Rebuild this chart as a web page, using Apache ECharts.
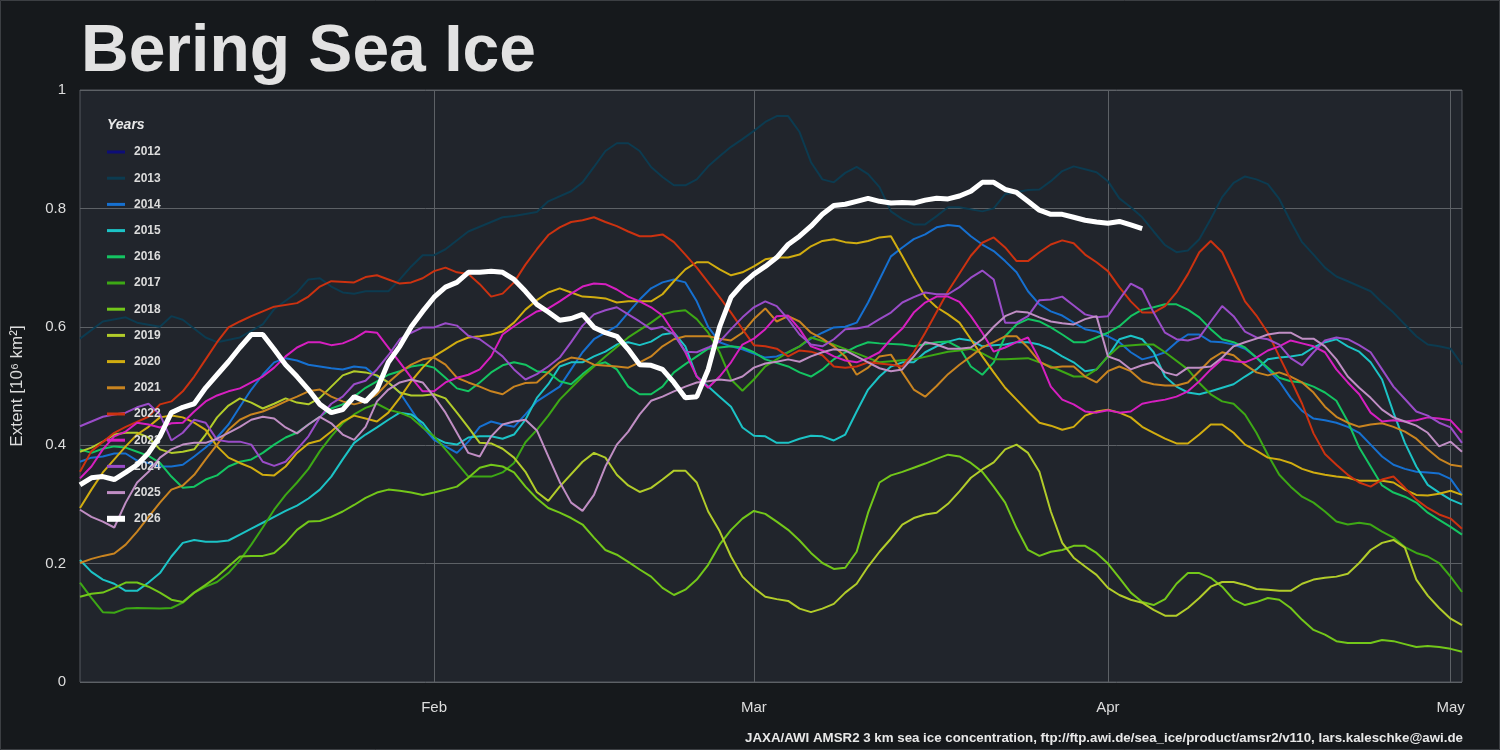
<!DOCTYPE html>
<html><head><meta charset="utf-8">
<script src="https://cdn.jsdelivr.net/npm/echarts@6/dist/echarts.min.js"></script>
<style>html,body{margin:0;padding:0;background:#16191c;}#c{width:1500px;height:750px;}</style>
</head><body><div id="c"></div>
<script>
const years = ['2012','2013','2014','2015','2016','2017','2018','2019','2020','2021','2022','2023','2024','2025','2026'];
const colors = ['#0d0d78','#0c3b50','#1670d0','#1cc3c6','#14c462','#3da815','#73c71a','#b2cc2a','#d1ad10','#c98420','#cc3210','#d61fc0','#9a4cc8','#c08ec4','#ffffff'];
const monthTicks = [31,59,90,120];
const monthLabels = ['Feb','Mar','Apr','May'];

const ext2012 = [];
const ext2013 = [[0,0.58],[2,0.609],[4,0.616],[5,0.607],[7,0.60],[8,0.618],[9,0.612],[11,0.582],[12,0.574],[14,0.582],[16,0.604],[17,0.63],[19,0.658],[20,0.68],[21,0.682],[22,0.668],[23,0.658],[24,0.656],[25,0.66],[27,0.66],[28,0.68],[29,0.702],[30,0.721],[31,0.721],[32,0.731],[34,0.761],[37,0.785],[38,0.787],[40,0.794],[41,0.812],[43,0.829],[44,0.844],[45,0.87],[46,0.897],[47,0.91],[48,0.91],[49,0.897],[50,0.87],[51,0.853],[52,0.839],[53,0.839],[54,0.849],[55,0.871],[56,0.888],[57,0.904],[58,0.917],[59,0.931],[60,0.946],[61,0.956],[62,0.956],[63,0.929],[64,0.878],[65,0.849],[66,0.844],[67,0.86],[68,0.87],[69,0.858],[70,0.836],[71,0.795],[72,0.782],[73,0.773],[74,0.773],[75,0.787],[76,0.802],[77,0.802],[79,0.795],[80,0.80],[81,0.824],[83,0.831],[84,0.832],[85,0.846],[86,0.863],[87,0.871],[88,0.866],[89,0.861],[90,0.846],[91,0.817],[92,0.802],[93,0.785],[94,0.761],[95,0.738],[96,0.726],[97,0.729],[98,0.748],[99,0.782],[100,0.819],[101,0.843],[102,0.854],[103,0.849],[104,0.841],[105,0.816],[106,0.778],[107,0.743],[108,0.722],[109,0.70],[110,0.685],[111,0.677],[113,0.66],[114,0.641],[115,0.624],[116,0.604],[117,0.584],[118,0.57],[119,0.567],[120,0.563],[121,0.536]];
const ext2014 = [[0,0.372],[1,0.379],[2,0.381],[3,0.386],[4,0.386],[5,0.374],[6,0.37],[7,0.364],[8,0.364],[9,0.367],[10,0.381],[11,0.396],[12,0.413],[13,0.435],[14,0.465],[15,0.494],[16,0.519],[17,0.54],[18,0.547],[19,0.543],[20,0.536],[21,0.533],[22,0.53],[23,0.528],[24,0.533],[25,0.531],[26,0.516],[27,0.506],[28,0.489],[29,0.46],[30,0.431],[31,0.409],[32,0.398],[33,0.387],[34,0.406],[35,0.431],[36,0.44],[37,0.435],[38,0.431],[39,0.452],[40,0.474],[42,0.499],[43,0.528],[44,0.557],[45,0.579],[47,0.601],[48,0.624],[49,0.646],[50,0.665],[51,0.675],[52,0.68],[53,0.675],[54,0.643],[55,0.60],[56,0.574],[57,0.567],[58,0.562],[59,0.555],[60,0.548],[61,0.55],[62,0.557],[63,0.567],[64,0.58],[65,0.59],[66,0.599],[67,0.60],[68,0.607],[69,0.641],[70,0.68],[71,0.719],[72,0.734],[73,0.748],[74,0.756],[75,0.768],[76,0.772],[77,0.77],[78,0.753],[79,0.739],[80,0.728],[81,0.711],[82,0.692],[83,0.66],[84,0.638],[85,0.626],[86,0.619],[87,0.607],[88,0.596],[89,0.592],[90,0.584],[91,0.574],[92,0.557],[93,0.545],[94,0.55],[95,0.557],[96,0.574],[97,0.587],[98,0.587],[99,0.575],[100,0.574],[101,0.57],[102,0.563],[103,0.548],[104,0.528],[105,0.508],[106,0.48],[107,0.458],[108,0.445],[109,0.442],[110,0.438],[111,0.431],[112,0.421],[113,0.401],[114,0.381],[115,0.367],[116,0.36],[117,0.355],[118,0.354],[119,0.352],[120,0.343],[121,0.316]];
const ext2015 = [[0,0.206],[1,0.186],[2,0.173],[3,0.166],[4,0.154],[5,0.154],[6,0.168],[7,0.184],[8,0.212],[9,0.235],[10,0.24],[11,0.237],[12,0.237],[13,0.239],[14,0.249],[15,0.259],[16,0.269],[17,0.279],[18,0.289],[19,0.298],[20,0.31],[21,0.325],[22,0.347],[23,0.376],[24,0.404],[25,0.418],[26,0.43],[27,0.443],[28,0.455],[29,0.452],[30,0.438],[31,0.413],[32,0.404],[33,0.401],[34,0.413],[35,0.415],[36,0.415],[37,0.411],[38,0.418],[39,0.443],[40,0.48],[41,0.503],[42,0.533],[43,0.54],[44,0.54],[45,0.55],[46,0.558],[47,0.57],[48,0.574],[49,0.569],[50,0.575],[51,0.587],[52,0.59],[53,0.567],[54,0.516],[55,0.499],[56,0.482],[57,0.465],[58,0.43],[59,0.416],[60,0.415],[61,0.404],[62,0.404],[63,0.411],[64,0.416],[65,0.415],[66,0.408],[67,0.418],[68,0.457],[69,0.494],[70,0.516],[71,0.533],[72,0.54],[73,0.54],[74,0.557],[75,0.567],[76,0.575],[77,0.58],[78,0.577],[79,0.567],[80,0.569],[81,0.57],[82,0.574],[83,0.574],[84,0.57],[85,0.562],[86,0.55],[87,0.54],[88,0.525],[89,0.528],[90,0.55],[91,0.579],[92,0.585],[93,0.579],[94,0.557],[95,0.516],[96,0.499],[97,0.489],[98,0.486],[99,0.491],[100,0.497],[101,0.503],[102,0.516],[103,0.528],[104,0.545],[105,0.548],[106,0.55],[107,0.553],[108,0.565],[109,0.574],[110,0.579],[111,0.567],[112,0.558],[113,0.54],[114,0.511],[115,0.455],[116,0.404],[117,0.364],[118,0.333],[119,0.32],[120,0.308],[121,0.3]];
const ext2016 = [[0,0.393],[1,0.387],[2,0.394],[3,0.398],[4,0.396],[5,0.389],[6,0.382],[7,0.37],[8,0.347],[9,0.328],[10,0.33],[11,0.342],[12,0.349],[13,0.364],[14,0.372],[15,0.376],[16,0.387],[17,0.401],[18,0.413],[19,0.421],[20,0.435],[21,0.448],[22,0.462],[23,0.469],[24,0.482],[25,0.497],[26,0.508],[27,0.519],[28,0.525],[29,0.533],[30,0.536],[31,0.531],[32,0.514],[33,0.496],[34,0.491],[35,0.506],[36,0.523],[37,0.535],[38,0.54],[39,0.536],[40,0.525],[41,0.523],[42,0.508],[43,0.503],[44,0.52],[45,0.535],[46,0.54],[47,0.528],[48,0.499],[49,0.486],[50,0.486],[51,0.499],[52,0.523],[53,0.537],[54,0.55],[55,0.563],[57,0.567],[58,0.565],[59,0.557],[60,0.545],[62,0.533],[63,0.523],[64,0.516],[65,0.528],[66,0.545],[67,0.557],[68,0.567],[69,0.574],[70,0.572],[72,0.57],[73,0.567],[75,0.574],[76,0.575],[77,0.565],[78,0.533],[79,0.519],[80,0.54],[81,0.584],[82,0.604],[83,0.613],[84,0.609],[85,0.599],[86,0.587],[87,0.574],[88,0.574],[89,0.582],[90,0.59],[91,0.601],[92,0.618],[93,0.629],[94,0.633],[95,0.638],[96,0.638],[97,0.629],[98,0.616],[99,0.596],[100,0.579],[101,0.574],[102,0.565],[103,0.548],[104,0.531],[105,0.514],[106,0.508],[107,0.506],[108,0.499],[109,0.489],[110,0.475],[111,0.44],[112,0.396],[113,0.364],[114,0.332],[115,0.32],[116,0.313],[117,0.303],[118,0.286],[119,0.274],[120,0.262],[121,0.249]];
const ext2017 = [[0,0.168],[1,0.142],[2,0.118],[3,0.117],[4,0.124],[5,0.125],[7,0.124],[8,0.125],[9,0.134],[10,0.151],[11,0.161],[12,0.169],[13,0.184],[14,0.206],[15,0.232],[16,0.261],[17,0.291],[18,0.316],[19,0.337],[20,0.36],[21,0.39],[22,0.415],[23,0.437],[24,0.452],[25,0.463],[26,0.47],[27,0.46],[28,0.455],[29,0.447],[30,0.43],[31,0.415],[32,0.393],[33,0.37],[34,0.347],[35,0.347],[36,0.347],[37,0.354],[38,0.37],[39,0.405],[40,0.426],[41,0.45],[42,0.477],[44,0.516],[46,0.55],[48,0.582],[50,0.607],[51,0.621],[52,0.626],[53,0.628],[54,0.613],[55,0.59],[56,0.557],[57,0.511],[58,0.492],[59,0.511],[60,0.533],[61,0.545],[62,0.557],[63,0.567],[64,0.582],[66,0.57],[68,0.555],[70,0.54],[73,0.545],[76,0.558],[77,0.56],[78,0.563],[79,0.555],[80,0.545],[81,0.545],[83,0.547],[85,0.533],[87,0.516],[88,0.516],[89,0.528],[90,0.55],[91,0.567],[93,0.57],[94,0.57],[95,0.557],[97,0.528],[98,0.505],[99,0.486],[100,0.474],[101,0.47],[102,0.452],[103,0.421],[104,0.384],[105,0.35],[106,0.33],[107,0.313],[108,0.303],[109,0.288],[110,0.271],[111,0.266],[112,0.269],[113,0.266],[114,0.254],[115,0.244],[116,0.228],[117,0.218],[118,0.212],[119,0.201],[120,0.178],[121,0.152]];
const ext2018 = [[0,0.144],[1,0.149],[2,0.151],[3,0.159],[4,0.168],[5,0.168],[6,0.161],[7,0.151],[8,0.139],[9,0.135],[10,0.151],[11,0.164],[12,0.178],[13,0.195],[14,0.212],[15,0.213],[16,0.213],[17,0.218],[18,0.235],[19,0.257],[20,0.271],[21,0.272],[22,0.279],[23,0.288],[24,0.299],[25,0.311],[26,0.32],[27,0.325],[28,0.323],[29,0.32],[30,0.316],[31,0.32],[32,0.325],[33,0.33],[34,0.345],[35,0.362],[36,0.367],[37,0.364],[38,0.354],[39,0.33],[40,0.31],[41,0.294],[42,0.286],[43,0.277],[44,0.266],[45,0.244],[46,0.223],[47,0.215],[48,0.203],[49,0.19],[50,0.178],[51,0.159],[52,0.147],[53,0.156],[54,0.173],[55,0.198],[56,0.232],[57,0.257],[58,0.276],[59,0.289],[60,0.284],[61,0.271],[62,0.257],[63,0.239],[64,0.218],[65,0.201],[66,0.191],[67,0.193],[68,0.22],[69,0.286],[70,0.337],[71,0.349],[72,0.355],[73,0.362],[74,0.369],[75,0.377],[76,0.384],[77,0.381],[78,0.37],[79,0.355],[80,0.33],[81,0.303],[82,0.26],[83,0.223],[84,0.213],[85,0.22],[86,0.223],[87,0.23],[88,0.23],[89,0.218],[90,0.2],[91,0.176],[92,0.151],[93,0.135],[94,0.13],[95,0.14],[96,0.166],[97,0.184],[98,0.184],[99,0.176],[100,0.161],[101,0.139],[102,0.13],[103,0.135],[104,0.142],[105,0.139],[106,0.125],[107,0.105],[108,0.088],[109,0.08],[110,0.069],[111,0.066],[112,0.066],[113,0.066],[114,0.071],[115,0.069],[116,0.064],[117,0.059],[118,0.061],[119,0.059],[120,0.056],[121,0.051]];
const ext2019 = [[0,0.389],[1,0.396],[2,0.406],[3,0.418],[4,0.421],[5,0.421],[6,0.413],[7,0.393],[8,0.387],[9,0.389],[10,0.393],[11,0.418],[12,0.447],[13,0.467],[14,0.479],[15,0.472],[16,0.462],[17,0.47],[18,0.479],[19,0.472],[20,0.469],[21,0.48],[22,0.499],[23,0.518],[24,0.525],[25,0.523],[26,0.518],[27,0.506],[28,0.489],[29,0.484],[30,0.484],[31,0.486],[32,0.479],[33,0.455],[34,0.43],[35,0.404],[36,0.403],[37,0.394],[38,0.379],[39,0.355],[40,0.321],[41,0.306],[42,0.33],[44,0.372],[45,0.387],[46,0.379],[47,0.35],[48,0.332],[49,0.321],[50,0.328],[51,0.342],[52,0.357],[53,0.357],[54,0.337],[55,0.288],[56,0.255],[57,0.212],[58,0.178],[59,0.159],[60,0.144],[61,0.14],[62,0.137],[63,0.124],[64,0.118],[65,0.124],[66,0.132],[67,0.151],[68,0.166],[69,0.195],[70,0.22],[71,0.242],[72,0.266],[73,0.277],[74,0.283],[75,0.286],[76,0.301],[77,0.322],[78,0.345],[79,0.359],[80,0.371],[81,0.393],[82,0.401],[83,0.387],[84,0.355],[85,0.288],[86,0.235],[87,0.21],[88,0.195],[89,0.181],[90,0.159],[91,0.147],[92,0.139],[93,0.134],[94,0.122],[95,0.112],[96,0.112],[97,0.125],[98,0.142],[99,0.161],[100,0.169],[101,0.169],[102,0.164],[103,0.157],[104,0.156],[105,0.154],[106,0.154],[107,0.166],[108,0.173],[109,0.176],[110,0.178],[111,0.183],[112,0.201],[113,0.223],[114,0.235],[115,0.24],[116,0.227],[117,0.173],[118,0.146],[119,0.125],[120,0.107],[121,0.096]];
const ext2020 = [[0,0.294],[1,0.325],[2,0.354],[3,0.376],[4,0.398],[5,0.418],[6,0.431],[7,0.447],[8,0.45],[9,0.447],[10,0.438],[11,0.426],[12,0.398],[13,0.379],[14,0.37],[15,0.362],[16,0.35],[17,0.349],[18,0.364],[19,0.387],[20,0.403],[21,0.408],[22,0.423],[23,0.44],[24,0.45],[25,0.445],[26,0.44],[27,0.455],[28,0.48],[29,0.508],[30,0.531],[31,0.55],[32,0.562],[33,0.574],[34,0.582],[35,0.584],[36,0.587],[37,0.592],[38,0.607],[39,0.629],[40,0.645],[41,0.658],[42,0.665],[43,0.658],[44,0.651],[45,0.65],[46,0.648],[47,0.641],[48,0.643],[49,0.643],[50,0.643],[51,0.655],[52,0.677],[53,0.697],[54,0.709],[55,0.709],[56,0.697],[57,0.687],[58,0.692],[59,0.702],[60,0.714],[61,0.717],[62,0.717],[63,0.722],[64,0.736],[65,0.745],[66,0.748],[67,0.743],[68,0.741],[69,0.745],[70,0.751],[71,0.753],[72,0.719],[73,0.684],[74,0.651],[75,0.633],[76,0.621],[77,0.607],[78,0.579],[79,0.55],[80,0.523],[81,0.497],[82,0.477],[83,0.457],[84,0.438],[85,0.433],[86,0.426],[87,0.431],[88,0.45],[89,0.457],[90,0.46],[91,0.455],[92,0.447],[93,0.431],[94,0.421],[95,0.411],[96,0.403],[97,0.403],[98,0.418],[99,0.435],[100,0.435],[101,0.421],[102,0.401],[103,0.391],[104,0.379],[105,0.376],[106,0.37],[107,0.36],[108,0.354],[109,0.35],[110,0.347],[111,0.345],[112,0.34],[113,0.34],[114,0.34],[115,0.337],[116,0.325],[117,0.316],[118,0.315],[119,0.318],[120,0.323],[121,0.316]];
const ext2021 = [[0,0.201],[1,0.208],[2,0.213],[3,0.217],[4,0.232],[5,0.254],[6,0.279],[7,0.303],[8,0.325],[9,0.332],[10,0.35],[11,0.376],[12,0.401],[13,0.426],[14,0.443],[15,0.452],[16,0.457],[17,0.465],[18,0.474],[19,0.482],[20,0.491],[21,0.494],[22,0.482],[23,0.474],[24,0.469],[25,0.474],[26,0.486],[27,0.506],[28,0.523],[29,0.536],[30,0.545],[31,0.548],[32,0.536],[33,0.514],[34,0.506],[35,0.499],[36,0.491],[37,0.486],[38,0.499],[39,0.505],[40,0.506],[42,0.54],[43,0.548],[44,0.545],[45,0.536],[47,0.533],[48,0.531],[49,0.54],[50,0.55],[51,0.567],[52,0.579],[53,0.584],[54,0.584],[55,0.584],[56,0.58],[57,0.577],[58,0.59],[59,0.613],[60,0.631],[61,0.609],[62,0.618],[63,0.609],[64,0.59],[65,0.58],[66,0.567],[67,0.55],[68,0.519],[69,0.531],[70,0.55],[71,0.553],[72,0.523],[73,0.494],[74,0.482],[75,0.5],[76,0.52],[77,0.536],[78,0.55],[79,0.565],[80,0.574],[81,0.584],[82,0.584],[83,0.565],[84,0.541],[85,0.531],[86,0.533],[87,0.533],[88,0.516],[89,0.506],[90,0.525],[91,0.533],[92,0.525],[93,0.508],[94,0.503],[95,0.501],[96,0.501],[97,0.506],[98,0.525],[99,0.545],[100,0.557],[101,0.552],[102,0.536],[103,0.523],[104,0.518],[105,0.523],[106,0.516],[107,0.506],[108,0.489],[109,0.465],[110,0.448],[111,0.438],[112,0.431],[113,0.435],[114,0.437],[115,0.431],[116,0.423],[117,0.411],[118,0.393],[119,0.377],[120,0.367],[121,0.364]];
const ext2022 = [[0,0.355],[1,0.39],[3,0.421],[4,0.431],[6,0.448],[7,0.469],[8,0.474],[9,0.491],[10,0.516],[11,0.545],[12,0.574],[13,0.599],[14,0.609],[15,0.618],[17,0.634],[19,0.64],[20,0.651],[21,0.668],[22,0.677],[24,0.675],[25,0.684],[26,0.687],[27,0.68],[28,0.673],[29,0.675],[30,0.682],[31,0.694],[32,0.70],[33,0.692],[34,0.689],[35,0.672],[36,0.651],[37,0.656],[38,0.675],[39,0.705],[40,0.731],[41,0.755],[42,0.768],[43,0.777],[44,0.78],[45,0.785],[46,0.777],[47,0.77],[48,0.761],[49,0.753],[50,0.753],[51,0.756],[52,0.743],[53,0.722],[54,0.70],[55,0.675],[56,0.65],[57,0.624],[58,0.596],[59,0.569],[60,0.567],[61,0.563],[62,0.55],[63,0.56],[64,0.558],[65,0.552],[66,0.533],[67,0.531],[68,0.533],[69,0.54],[70,0.538],[71,0.536],[72,0.533],[73,0.557],[74,0.59],[75,0.625],[76,0.66],[77,0.69],[78,0.72],[79,0.742],[80,0.751],[81,0.734],[82,0.711],[83,0.711],[84,0.726],[85,0.739],[86,0.746],[87,0.741],[88,0.722],[89,0.709],[90,0.694],[91,0.667],[92,0.643],[93,0.624],[94,0.624],[95,0.635],[96,0.658],[97,0.689],[98,0.726],[99,0.745],[100,0.726],[101,0.685],[102,0.643],[103,0.619],[104,0.59],[105,0.55],[106,0.511],[107,0.47],[108,0.42],[109,0.385],[110,0.367],[111,0.35],[112,0.337],[113,0.33],[114,0.342],[115,0.347],[116,0.328],[117,0.308],[118,0.294],[119,0.283],[120,0.276],[121,0.259]];
const ext2023 = [[0,0.344],[1,0.364],[2,0.393],[3,0.415],[4,0.423],[5,0.438],[6,0.435],[7,0.43],[8,0.437],[9,0.438],[10,0.457],[11,0.474],[12,0.484],[13,0.491],[14,0.496],[15,0.506],[16,0.516],[17,0.531],[18,0.55],[19,0.565],[20,0.574],[21,0.574],[22,0.569],[23,0.572],[24,0.58],[25,0.592],[26,0.59],[27,0.565],[28,0.54],[29,0.514],[30,0.491],[31,0.491],[32,0.506],[33,0.514],[34,0.519],[35,0.528],[36,0.55],[37,0.587],[38,0.601],[39,0.614],[40,0.626],[41,0.631],[42,0.643],[43,0.656],[44,0.668],[45,0.673],[46,0.672],[47,0.663],[48,0.651],[49,0.643],[50,0.633],[51,0.619],[52,0.59],[53,0.557],[54,0.516],[55,0.497],[56,0.516],[57,0.54],[58,0.57],[59,0.58],[60,0.596],[61,0.618],[62,0.619],[63,0.596],[64,0.567],[65,0.56],[66,0.55],[67,0.543],[68,0.54],[69,0.547],[70,0.557],[71,0.579],[72,0.597],[73,0.624],[74,0.641],[75,0.651],[76,0.651],[77,0.642],[78,0.618],[79,0.59],[80,0.558],[81,0.565],[82,0.574],[83,0.582],[84,0.545],[85,0.499],[86,0.477],[87,0.469],[88,0.457],[89,0.455],[90,0.459],[91,0.455],[92,0.457],[93,0.47],[94,0.474],[95,0.477],[96,0.482],[97,0.491],[98,0.508],[99,0.528],[100,0.545],[101,0.542],[102,0.54],[103,0.548],[104,0.56],[105,0.567],[106,0.577],[107,0.572],[108,0.567],[109,0.557],[110,0.528],[111,0.506],[112,0.486],[113,0.455],[114,0.44],[115,0.442],[116,0.44],[117,0.442],[118,0.447],[119,0.445],[120,0.442],[121,0.421]];
const ext2024 = [[0,0.432],[2,0.448],[3,0.452],[4,0.455],[5,0.464],[6,0.47],[7,0.452],[8,0.408],[9,0.421],[10,0.443],[11,0.438],[12,0.409],[13,0.406],[14,0.406],[15,0.401],[16,0.372],[17,0.365],[18,0.372],[19,0.393],[20,0.415],[21,0.447],[22,0.47],[23,0.482],[24,0.503],[25,0.509],[26,0.528],[27,0.552],[28,0.579],[29,0.59],[30,0.599],[31,0.599],[32,0.606],[33,0.602],[34,0.585],[35,0.579],[36,0.565],[37,0.55],[38,0.528],[39,0.511],[40,0.52],[41,0.533],[42,0.548],[43,0.574],[44,0.602],[45,0.621],[46,0.628],[47,0.633],[48,0.621],[49,0.609],[50,0.596],[51,0.60],[52,0.587],[53,0.558],[54,0.557],[55,0.565],[56,0.575],[57,0.596],[58,0.616],[59,0.633],[60,0.643],[61,0.635],[62,0.613],[63,0.587],[64,0.57],[65,0.567],[66,0.579],[67,0.596],[68,0.597],[69,0.601],[70,0.613],[71,0.624],[72,0.641],[73,0.65],[74,0.658],[75,0.655],[76,0.655],[77,0.667],[78,0.683],[79,0.695],[80,0.68],[81,0.607],[82,0.607],[83,0.618],[84,0.645],[85,0.646],[86,0.651],[87,0.636],[88,0.621],[89,0.616],[90,0.618],[91,0.646],[92,0.673],[93,0.663],[94,0.624],[95,0.59],[96,0.579],[97,0.577],[98,0.582],[99,0.609],[100,0.635],[101,0.618],[102,0.592],[103,0.582],[104,0.579],[105,0.57],[106,0.547],[107,0.535],[108,0.557],[109,0.577],[110,0.582],[111,0.579],[112,0.569],[113,0.557],[114,0.528],[115,0.499],[116,0.478],[117,0.457],[118,0.45],[119,0.438],[120,0.43],[121,0.404]];
const ext2025 = [[0,0.291],[1,0.279],[2,0.271],[3,0.261],[4,0.303],[5,0.337],[6,0.355],[7,0.379],[8,0.393],[9,0.401],[10,0.404],[11,0.404],[12,0.411],[13,0.421],[14,0.431],[15,0.443],[16,0.448],[17,0.445],[18,0.43],[19,0.42],[20,0.435],[21,0.448],[22,0.437],[23,0.418],[24,0.409],[25,0.431],[26,0.474],[27,0.494],[28,0.506],[29,0.511],[30,0.506],[31,0.482],[32,0.455],[33,0.421],[34,0.387],[35,0.381],[36,0.415],[37,0.435],[38,0.44],[39,0.443],[40,0.425],[41,0.381],[42,0.338],[43,0.303],[44,0.289],[45,0.316],[46,0.364],[47,0.401],[48,0.423],[49,0.452],[50,0.475],[51,0.482],[52,0.491],[53,0.499],[54,0.506],[55,0.508],[56,0.511],[57,0.509],[58,0.516],[59,0.531],[60,0.538],[61,0.541],[62,0.545],[63,0.541],[64,0.55],[65,0.557],[66,0.562],[67,0.56],[68,0.55],[69,0.54],[70,0.53],[71,0.525],[72,0.528],[73,0.55],[74,0.574],[75,0.57],[76,0.563],[77,0.563],[78,0.565],[79,0.579],[80,0.60],[81,0.618],[82,0.626],[83,0.624],[84,0.616],[85,0.609],[86,0.606],[87,0.604],[88,0.613],[89,0.618],[90,0.55],[91,0.543],[92,0.528],[93,0.535],[94,0.54],[95,0.523],[96,0.518],[97,0.531],[98,0.531],[99,0.533],[100,0.548],[101,0.567],[102,0.574],[103,0.58],[104,0.587],[105,0.59],[106,0.59],[107,0.58],[108,0.58],[109,0.567],[110,0.545],[111,0.516],[112,0.497],[113,0.48],[114,0.46],[115,0.447],[116,0.44],[117,0.433],[118,0.421],[119,0.398],[120,0.406],[121,0.389]];
const ext2026 = [[0,0.333],[1,0.345],[2,0.347],[3,0.342],[4,0.354],[5,0.367],[6,0.387],[7,0.415],[8,0.455],[9,0.464],[10,0.47],[11,0.497],[12,0.519],[13,0.541],[14,0.565],[15,0.587],[16,0.587],[17,0.562],[18,0.536],[19,0.516],[20,0.494],[21,0.469],[22,0.455],[23,0.46],[24,0.482],[25,0.474],[26,0.494],[27,0.54],[28,0.567],[29,0.60],[30,0.626],[31,0.65],[32,0.667],[33,0.675],[34,0.692],[35,0.692],[36,0.694],[37,0.692],[38,0.68],[39,0.66],[40,0.638],[41,0.625],[42,0.611],[43,0.614],[44,0.621],[45,0.599],[46,0.59],[47,0.584],[48,0.562],[49,0.536],[50,0.535],[51,0.528],[52,0.506],[53,0.48],[54,0.482],[55,0.528],[56,0.60],[57,0.65],[58,0.672],[59,0.689],[60,0.702],[61,0.717],[62,0.739],[63,0.753],[64,0.77],[65,0.79],[66,0.805],[67,0.807],[68,0.812],[69,0.817],[70,0.812],[71,0.809],[72,0.81],[73,0.809],[74,0.814],[75,0.817],[76,0.816],[77,0.821],[78,0.829],[79,0.844],[80,0.844],[81,0.832],[82,0.827],[83,0.812],[84,0.797],[85,0.79],[86,0.79],[87,0.785],[88,0.78],[89,0.777],[90,0.775],[91,0.778],[92,0.772],[93,0.766]];

const extents = [ext2012,ext2013,ext2014,ext2015,ext2016,ext2017,ext2018,ext2019,ext2020,ext2021,ext2022,ext2023,ext2024,ext2025,ext2026];

const chart = echarts.init(document.getElementById('c'), null, {renderer:'canvas'});
const FONT = '"Liberation Sans", Arial, sans-serif';
const series = years.map((y, i) => ({
  name: y, type: 'line', data: extents[i], symbol: 'none', showSymbol: false,
  color: colors[i],
  lineStyle: {width: y === '2026' ? 5 : 2, color: colors[i]},
  itemStyle: {color: colors[i]},
  z: y === '2026' ? 10 : 2,
  animation: false
}));

chart.setOption({
  backgroundColor: '#16191c',
  animation: false,
  title: [
    {text: 'Bering Sea Ice', left: 81, top: 20, padding: 0,
     textStyle: {color: '#e2e2e2', fontSize: 66, fontWeight: 'bold', fontFamily: FONT}},
    {text: 'Years', left: 107, top: 118, padding: 0,
     textStyle: {color: '#e8e8e8', fontSize: 14, fontStyle: 'italic', fontWeight: 'bold', fontFamily: FONT}},
    {text: 'JAXA/AWI AMSR2 3 km sea ice concentration, ftp://ftp.awi.de/sea_ice/product/amsr2/v110, lars.kaleschke@awi.de',
     right: 37, bottom: 5, padding: 0,
     textStyle: {color: '#e8e8e8', fontSize: 13.3, fontWeight: 'bold', fontFamily: FONT}}
  ],
  legend: {
    orient: 'vertical', left: 104, top: 146, padding: 0,
    itemWidth: 18, itemHeight: 12, itemGap: 14.2,
    data: years.map(y => y === '2026' ? {name: y, lineStyle: {width: 6}} : {name: y}),
    itemStyle: {opacity: 0},
    lineStyle: {width: 3},
    textStyle: {color: '#dcdcdc', fontSize: 12, fontWeight: 'bold', fontFamily: FONT, padding: [0,0,0,4]},
    selectedMode: false
  },
  grid: {left: 80, right: 38, top: 90, bottom: 68, show: true, backgroundColor: '#21252c', borderColor: '#55595e', borderWidth: 1},
  xAxis: {
    type: 'value', min: 0, max: 121,
    axisLine: {show: false},
    axisTick: {show: false, customValues: monthTicks},
    axisLabel: {customValues: monthTicks, color: '#dddddd', fontSize: 15, fontFamily: FONT, margin: 18,
      formatter: v => monthLabels[monthTicks.indexOf(v)] || ''},
    splitLine: {show: true, lineStyle: {color: '#5d6166', width: 1}}
  },
  yAxis: {
    type: 'value', min: 0, max: 1, interval: 0.2,
    name: 'Extent [10\u2076 km\u00b2]', nameLocation: 'middle', nameGap: 54, nameRotate: 90,
    nameTextStyle: {color: '#dddddd', fontSize: 17, fontFamily: FONT},
    axisLine: {show: false}, axisTick: {show: false},
    axisLabel: {color: '#dddddd', fontSize: 15, fontFamily: FONT, margin: 14},
    splitLine: {show: true, lineStyle: {color: '#5d6166', width: 1}}
  },
  graphic: [{type: 'rect', shape: {x: 0.5, y: 0.5, width: 1499, height: 749}, style: {fill: 'none', stroke: '#3c3f43', lineWidth: 1}, silent: true, z: 100}],
  series: series
});
</script></body></html>
